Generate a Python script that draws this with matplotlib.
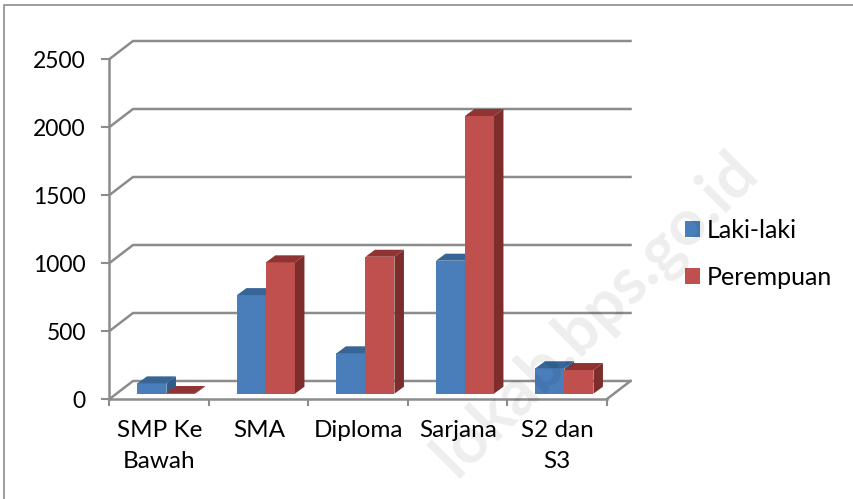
import matplotlib
matplotlib.use('Agg')
import matplotlib.pyplot as plt
from matplotlib.patches import Polygon

plt.rcParams['font.family'] = ['Lato', 'DejaVu Sans']

categories = ['SMP Ke\nBawah', 'SMA', 'Diploma', 'Sarjana', 'S2 dan\nS3']
laki = [76, 725, 297, 978, 187]
perempuan = [5, 966, 1007, 2042, 174]
yticks = [0, 500, 1000, 1500, 2000, 2500]
series_names = ['Laki-laki', 'Perempuan']

W, H = 854, 499
GRAY = '#8c8c8c'

fig = plt.figure(figsize=(W / 100, H / 100), dpi=100)
# axes box = front plane of the 3d chart, in pixels
ax = fig.add_axes([109.5 / W, 1 - 399 / H, (607 - 109.5) / W, (399 - 59) / H])
ax.set_xlim(0, 5)
ax.set_ylim(0, 2500)
ax.patch.set_alpha(0)

# pixel -> data sizes for the fake depth
px_x = 5 / (607 - 109.5)
px_y = 2500 / (399 - 59)
back_x, back_y = 23.5 * px_x, 18 * px_y
base_x, base_y = 7.2 * px_x, 5.3 * px_y
side_x, side_y = 9.5 * px_x, 7 * px_y
bar_w = 29 * px_x

# walls and gridlines
for v in yticks:
    ax.plot([0, back_x, 5 + back_x], [v, v + back_y, v + back_y], color=GRAY, lw=1.8,
            clip_on=False, zorder=1, solid_joinstyle='miter')
ax.plot([5, 5 + back_x], [0, back_y], color=GRAY, lw=1.8, clip_on=False, zorder=1)


def draw_bars(values, offset, front, top, side, label):
    xs = [i + 0.5 + base_x + offset * bar_w for i in range(len(values))]
    bars = ax.bar(xs, values, width=bar_w, bottom=base_y, color=front, label=label,
                  clip_on=False, zorder=3 + offset, align='center')
    for x, v in zip(xs, values):
        l, r = x - bar_w / 2, x + bar_w / 2
        b, t = base_y, base_y + v
        ax.add_patch(Polygon([(l, t), (r, t), (r + side_x, t + side_y), (l + side_x, t + side_y)],
                             facecolor=top, edgecolor='none', clip_on=False, zorder=3 + offset))
        ax.add_patch(Polygon([(r, b), (r + side_x, b + side_y), (r + side_x, t + side_y), (r, t)],
                             facecolor=side, edgecolor='none', clip_on=False, zorder=3 + offset))
    return bars


draw_bars(laki, -0.5, '#4a7ebb', '#376596', '#2f5a8a', series_names[0])
draw_bars(perempuan, 0.5, '#c0504d', '#8f3432', '#7d2e2c', series_names[1])

for s in ['top', 'right']:
    ax.spines[s].set_visible(False)
for s in ['left', 'bottom']:
    ax.spines[s].set_color(GRAY)
    ax.spines[s].set_linewidth(1.8)
    ax.spines[s].set_zorder(2)

ax.set_yticks(yticks)
ax.tick_params(axis='y', length=6, width=1.5, color=GRAY, labelsize=16.5, pad=11)
ax.set_xticks(range(6))
ax.set_xticklabels([])
ax.set_xticks([i + 0.5 for i in range(5)], categories, minor=True)
ax.tick_params(axis='x', which='major', length=5, width=1.5, color=GRAY)
ax.tick_params(axis='x', which='minor', length=0, labelsize=17.5, pad=15)
for lab in ax.get_xticklabels(minor=True):
    lab.set_linespacing(1.6)

ax.legend(loc='center left', bbox_to_anchor=((685 - 109.5) / (607 - 109.5), (399 - 254) / 340),
          frameon=False, fontsize=18, handlelength=0.6, handleheight=0.6,
          handletextpad=0.28, labelspacing=0.96, borderpad=0, borderaxespad=0)

# watermark
fig.text(596 / W, 1 - 315 / H, 'lokab.bps.go.id', rotation=45, fontsize=46.5, fontweight='bold',
         color='#000000', alpha=0.07, ha='center', va='center', zorder=10)

# chart border, only top and left reach the image
fig.add_artist(plt.Line2D([4.5 / W, 4.5 / W, 1], [0, 1 - 4.5 / H, 1 - 4.5 / H],
                          transform=fig.transFigure, color=GRAY, lw=1.2))

fig.savefig('out.png', dpi=100)
